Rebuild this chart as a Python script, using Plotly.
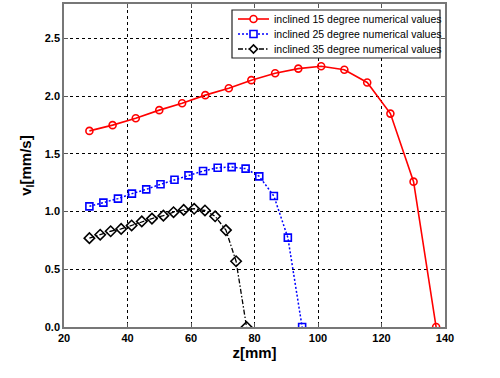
import plotly.graph_objects as go

z15 = [28.0, 35.3, 42.6, 50.0, 57.2, 64.5, 71.9, 79.0, 86.5, 93.8, 101.0, 108.3, 115.5, 122.8, 130.1, 137.2]
v15 = [1.70, 1.75, 1.81, 1.88, 1.94, 2.01, 2.07, 2.14, 2.20, 2.24, 2.26, 2.23, 2.12, 1.85, 1.26, 0.0]

z25 = [28.0, 32.4, 37.0, 41.4, 45.9, 50.4, 54.8, 59.2, 63.8, 68.4, 72.8, 77.2, 81.5, 86.1, 90.5, 95.0]
v25 = [1.046, 1.078, 1.113, 1.156, 1.193, 1.237, 1.277, 1.314, 1.352, 1.381, 1.386, 1.373, 1.306, 1.135, 0.775, 0.0]

z35 = [28.0, 31.4, 34.7, 38.0, 41.3, 44.5, 47.7, 51.3, 54.5, 57.7, 61.0, 64.4, 67.6, 71.0, 74.2, 77.5]
v35 = [0.77, 0.80, 0.83, 0.85, 0.88, 0.915, 0.94, 0.965, 0.995, 1.015, 1.025, 1.01, 0.96, 0.84, 0.57, 0.0]

names = ["inclined 15 degree numerical values",
         "inclined 25 degree numerical values",
         "inclined 35 degree numerical values"]
colors = ["red", "blue", "black"]
dashes = ["solid", "2px,2px", "5px,2px,1.5px,2px"]
symbols = ["circle-open", "square-open", "diamond-open"]
msizes = [7, 7, 8]
lwidths = [1.6, 1.5, 1.3]

W, H = 500, 378
L, R, T, B = 64, 55, 4, 51
PW, PH = W - L - R, H - T - B

def fx(px):
    return (px - L) / PW

def fy(py):
    return (T + PH - py) / PH

fig = go.Figure()
for zs, vs, n, c, d, s, ms, lw in zip([z15, z25, z35], [v15, v25, v35], names, colors, dashes, symbols, msizes, lwidths):
    fig.add_trace(go.Scatter(x=zs, y=vs, name=n, mode="lines+markers", showlegend=False,
                             line=dict(color=c, width=lw, dash=d),
                             marker=dict(symbol=s, size=ms, color=c, line=dict(width=1.6))))

# custom legend drawn with shapes (layer above) + annotations
shapes = [dict(type="rect", xref="paper", yref="paper", layer="above",
               x0=fx(232), x1=fx(440), y0=fy(58), y1=fy(10),
               fillcolor="white", line=dict(color="#222", width=1.2))]
annotations = []
rows = [19, 34, 49]
cx = fx(253.5)
for n, c, d, s, ms, lw, ry in zip(names, colors, dashes, symbols, msizes, lwidths, rows):
    yy = fy(ry)
    shapes.append(dict(type="line", xref="paper", yref="paper", layer="above",
                       x0=fx(238), x1=fx(269), y0=yy, y1=yy,
                       line=dict(color=c, width=lw, dash=d)))
    h = ms / 2.0
    common = dict(xref="paper", yref="paper", layer="above", xsizemode="pixel", ysizemode="pixel",
                  xanchor=cx, yanchor=yy, fillcolor="white", line=dict(color=c, width=1.6))
    if s.startswith("circle"):
        shapes.append(dict(type="circle", x0=-h, x1=h, y0=-h, y1=h, **common))
    elif s.startswith("square"):
        shapes.append(dict(type="rect", x0=-h, x1=h, y0=-h, y1=h, **common))
    else:
        shapes.append(dict(type="path", path=f"M {-h} 0 L 0 {h} L {h} 0 L 0 {-h} Z", **common))
    annotations.append(dict(x=fx(272), y=yy, xref="paper", yref="paper", text=n,
                            showarrow=False, xanchor="left", yanchor="middle",
                            font=dict(family="Liberation Sans, Arial", size=10.5, color="black")))

axis_common = dict(
    showline=True, linecolor="#777", linewidth=1.5, mirror="ticks",
    ticks="inside", ticklen=4, tickcolor="#555",
    showgrid=True, gridcolor="black", griddash="dot", gridwidth=1,
    zeroline=False, automargin=False,
    tickfont=dict(family="Liberation Sans, Arial", size=11, color="black", weight="bold"),
)

fig.update_layout(
    width=W, height=H,
    margin=dict(l=L, r=R, t=T, b=B, autoexpand=False),
    paper_bgcolor="white", plot_bgcolor="white",
    xaxis=dict(range=[20, 140], tickvals=[20, 40, 60, 80, 100, 120, 140],
               title=dict(text="z[mm]", font=dict(family="Liberation Sans, Arial", size=15, color="black", weight="bold"), standoff=5),
               **axis_common),
    yaxis=dict(range=[0, 2.8], tickvals=[0, 0.5, 1.0, 1.5, 2.0, 2.5], tickformat=".1f",
               title=dict(text="v<sub>l</sub>[mm/s]", font=dict(family="Liberation Sans, Arial", size=15, color="black", weight="bold"), standoff=10),
               **axis_common),
    shapes=shapes,
    annotations=annotations,
    showlegend=False,
)

fig.write_html("out.html", config={"displayModeBar": False},
               post_script="document.body.style.margin='0';document.body.style.padding='0';")
